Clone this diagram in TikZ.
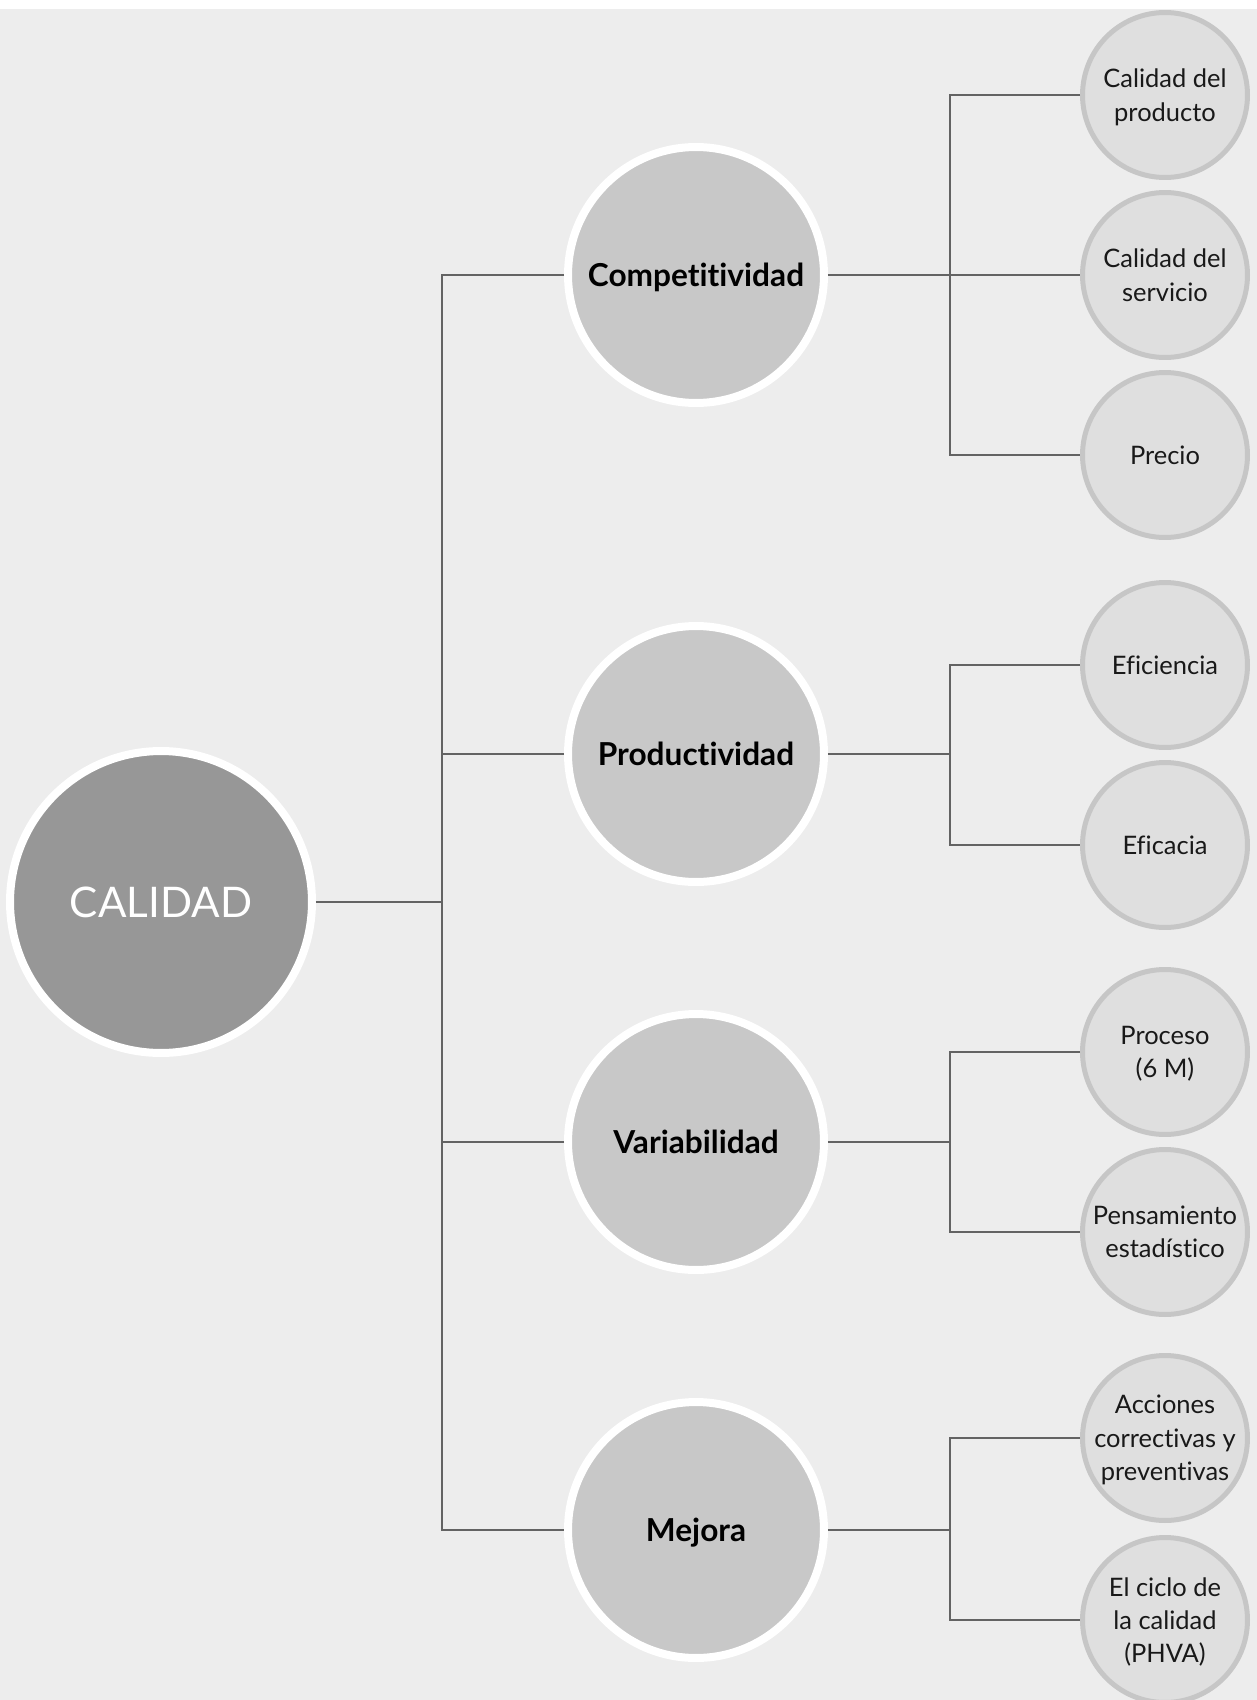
\documentclass[tikz,border=0pt]{standalone}
\usepackage{fontspec}
\setmainfont{Lato}[RawFeature={-liga}]
\usepackage{xcolor}

\definecolor{fondo}{HTML}{EDEDED}
\definecolor{gcal}{HTML}{979797}
\definecolor{gmed}{HTML}{C8C8C8}
\definecolor{gsub}{HTML}{DFDFDF}
\definecolor{gborde}{HTML}{C6C6C6}
\definecolor{linea}{HTML}{636363}

\tikzset{
  big/.style={circle, fill=gcal, draw=white, line width=0.16cm, minimum size=6.04cm,
    text=white, font=\fontsize{24}{28}\selectfont},
  mid/.style={circle, fill=gmed, draw=white, line width=0.16cm, minimum size=5.12cm,
    text depth=0pt, font=\bfseries\fontsize{18}{22}\selectfont},
  sub/.style={circle, fill=gsub, draw=gborde, line width=0.1cm, minimum size=3.3cm,
    inner sep=0pt, align=center, text depth=0pt, text=black!90,
    font=\fontsize{14.5}{19}\selectfont},
  link/.style={draw=linea, line width=0.055cm}
}

\begin{document}
\begin{tikzpicture}[x=0.02cm,y=-0.02cm]
\useasboundingbox (0,0) rectangle (1257,1700);
\clip (0,0) rectangle (1257,1700);
\fill[white] (0,0) rectangle (1257,1700);
\fill[fondo] (0,9) rectangle (1257,1700);

% centro y temas
\node[big] (cal) at (161,902) {CALIDAD};
\node[mid] (comp) at (696,275) {Competitividad};
\node[mid] (prod) at (696,754) {Productividad};
\node[mid] (var) at (696,1142) {Variabilidad};
\node[mid] (mej) at (696,1530) {Mejora};

% subtemas
\foreach \nom/\y/\txt in {s1/95/{Calidad del\\producto},
    s2/275/{Calidad del\\servicio},
    s3/455/{Precio},
    s4/665/{Eficiencia},
    s5/845/{Eficacia},
    s6/1052/{Proceso\\(6 M)},
    s7/1232/{Pensamiento\\estadístico},
    s8/1438/{Acciones\\correctivas y\\preventivas},
    s9/1620/{El ciclo de\\la calidad\\(PHVA)}}
  \node[sub] (\nom) at (1165,\y) {\txt};

\coordinate (tronco) at (442,1530);
\coordinate (rama) at (950,0);

% tronco
\draw[link] (comp.west) -| (tronco) -- (mej.west);
\draw[link] (cal.east) -- (cal.east -| tronco);
\draw[link] (prod.west) -- (prod.west -| tronco);
\draw[link] (var.west) -- (var.west -| tronco);

% ramas
\draw[link] (s1.west) -| (s3.west -| rama) -- (s3.west);
\draw[link] (comp.east) -- (comp.east -| s2.west);
\draw[link] (s4.west) -| (s5.west -| rama) -- (s5.west);
\draw[link] (prod.east) -- (prod.east -| rama);
\draw[link] (s6.west) -| (s7.west -| rama) -- (s7.west);
\draw[link] (var.east) -- (var.east -| rama);
\draw[link] (s8.west) -| (s9.west -| rama) -- (s9.west);
\draw[link] (mej.east) -- (mej.east -| rama);
\end{tikzpicture}
\end{document}
